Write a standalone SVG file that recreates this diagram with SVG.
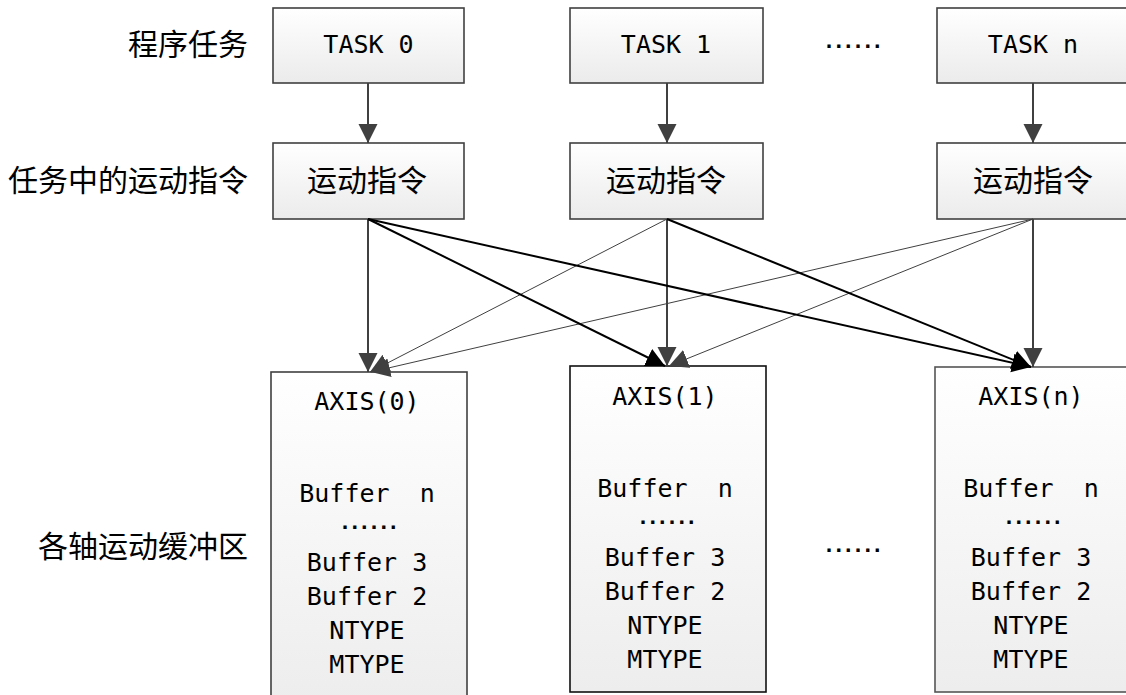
<svg xmlns="http://www.w3.org/2000/svg" width="1126" height="695" viewBox="0 0 1126 695">
<style>
.cjk{font-family:"Noto Sans CJK SC","Noto Sans CJK JP",sans-serif;font-size:30px;fill:#000}
.lat{font-family:"DejaVu Sans Mono","Liberation Mono",monospace;font-size:25px;fill:#000;white-space:pre}
.dot{font-family:"DejaVu Sans Mono","Liberation Mono",monospace;font-size:20px;font-weight:bold;letter-spacing:-2.4px;fill:#000}
.box{fill:url(#g1);stroke:#404040;stroke-width:1.6}
.abox{fill:url(#g2);stroke:#404040;stroke-width:1.6}
.v{stroke:#404040;stroke-width:2;fill:none;marker-end:url(#ag)}
.b{stroke:#000;stroke-width:2;fill:none;marker-end:url(#ab)}
.t{stroke:#404040;stroke-width:1;fill:none;marker-end:url(#ag)}
</style>
<defs>
<linearGradient id="g1" x1="0" y1="0" x2="0" y2="1"><stop offset="0" stop-color="#ffffff"/><stop offset="1" stop-color="#ebebeb"/></linearGradient>
<linearGradient id="g2" x1="0" y1="0" x2="0" y2="1"><stop offset="0" stop-color="#ffffff"/><stop offset="1" stop-color="#ededed"/></linearGradient>
<marker id="ag" markerUnits="userSpaceOnUse" markerWidth="20" markerHeight="20" refX="19" refY="9.5" orient="auto" viewBox="0 0 20 20"><path d="M0,0 L19,9.5 L0,19 z" fill="#404040"/></marker>
<marker id="ab" markerUnits="userSpaceOnUse" markerWidth="20" markerHeight="20" refX="19" refY="9.5" orient="auto" viewBox="0 0 20 20"><path d="M0,0 L19,9.5 L0,19 z" fill="#000"/></marker>
</defs>
<rect width="1126" height="695" fill="#fff"/>

<g id="labels">
<text class="cjk" x="248" y="55" text-anchor="end">程序任务</text>
<text class="cjk" x="248" y="191" text-anchor="end">任务中的运动指令</text>
<text class="cjk" x="248" y="557" text-anchor="end">各轴运动缓冲区</text>
<text class="dot" x="852" y="48" text-anchor="middle">......</text>
<text class="dot" x="852" y="552" text-anchor="middle">......</text>
</g>

<g id="task0"><rect class="box" x="273" y="8" width="191" height="75"/><text class="lat" x="368.5" y="53" text-anchor="middle">TASK 0</text></g>
<g id="task1"><rect class="box" x="570" y="8" width="193" height="75"/><text class="lat" x="666" y="53" text-anchor="middle">TASK 1</text></g>
<g id="taskn"><rect class="box" x="937" y="8" width="192" height="75"/><text class="lat" x="1033" y="53" text-anchor="middle">TASK n</text></g>

<g id="cmd0"><rect class="box" x="273" y="143" width="191" height="76"/><text class="cjk" x="367" y="191" text-anchor="middle">运动指令</text></g>
<g id="cmd1"><rect class="box" x="570" y="143" width="193" height="76"/><text class="cjk" x="666" y="191" text-anchor="middle">运动指令</text></g>
<g id="cmdn"><rect class="box" x="937" y="143" width="192" height="76"/><text class="cjk" x="1033" y="191" text-anchor="middle">运动指令</text></g>

<g id="axis0">
<rect class="abox" x="271" y="372" width="196" height="330"/>
<text class="lat" x="367" y="410" text-anchor="middle">AXIS(0)</text>
<text class="lat" x="367" y="502" text-anchor="middle">Buffer  n</text>
<text class="dot" x="368" y="529" text-anchor="middle">......</text>
<text class="lat" x="367" y="571" text-anchor="middle">Buffer 3</text>
<text class="lat" x="367" y="605" text-anchor="middle">Buffer 2</text>
<text class="lat" x="367" y="639" text-anchor="middle">NTYPE</text>
<text class="lat" x="367" y="673" text-anchor="middle">MTYPE</text>
</g>
<g id="axis1">
<rect class="abox" x="570" y="366" width="196" height="326" style="stroke:#111"/>
<text class="lat" x="665" y="405" text-anchor="middle">AXIS(1)</text>
<text class="lat" x="665" y="497" text-anchor="middle">Buffer  n</text>
<text class="dot" x="666" y="524" text-anchor="middle">......</text>
<text class="lat" x="665" y="566" text-anchor="middle">Buffer 3</text>
<text class="lat" x="665" y="600" text-anchor="middle">Buffer 2</text>
<text class="lat" x="665" y="634" text-anchor="middle">NTYPE</text>
<text class="lat" x="665" y="668" text-anchor="middle">MTYPE</text>
</g>
<g id="axisn">
<rect class="abox" x="935" y="367" width="196" height="325" style="stroke:#555"/>
<text class="lat" x="1031" y="405" text-anchor="middle">AXIS(n)</text>
<text class="lat" x="1031" y="497" text-anchor="middle">Buffer  n</text>
<text class="dot" x="1032" y="524" text-anchor="middle">......</text>
<text class="lat" x="1031" y="566" text-anchor="middle">Buffer 3</text>
<text class="lat" x="1031" y="600" text-anchor="middle">Buffer 2</text>
<text class="lat" x="1031" y="634" text-anchor="middle">NTYPE</text>
<text class="lat" x="1031" y="668" text-anchor="middle">MTYPE</text>
</g>

<g id="connectors">
<line class="v" x1="368" y1="83" x2="368" y2="143"/>
<line class="v" x1="667" y1="83" x2="667" y2="143"/>
<line class="v" x1="1033" y1="83" x2="1033" y2="143"/>
<line class="v" x1="368" y1="219" x2="368" y2="372"/>
<line class="v" x1="667" y1="219" x2="667" y2="366"/>
<line class="v" x1="1033" y1="219" x2="1033" y2="367"/>
<line class="t" x1="667" y1="219" x2="370" y2="372"/>
<line class="t" x1="1033" y1="219" x2="371" y2="372"/>
<line class="t" x1="1033" y1="219" x2="669" y2="366"/>
<line class="b" x1="368" y1="219" x2="665" y2="366"/>
<line class="b" x1="368" y1="219" x2="1031" y2="367"/>
<line class="b" x1="667" y1="219" x2="1031" y2="367"/>
</g>
</svg>
